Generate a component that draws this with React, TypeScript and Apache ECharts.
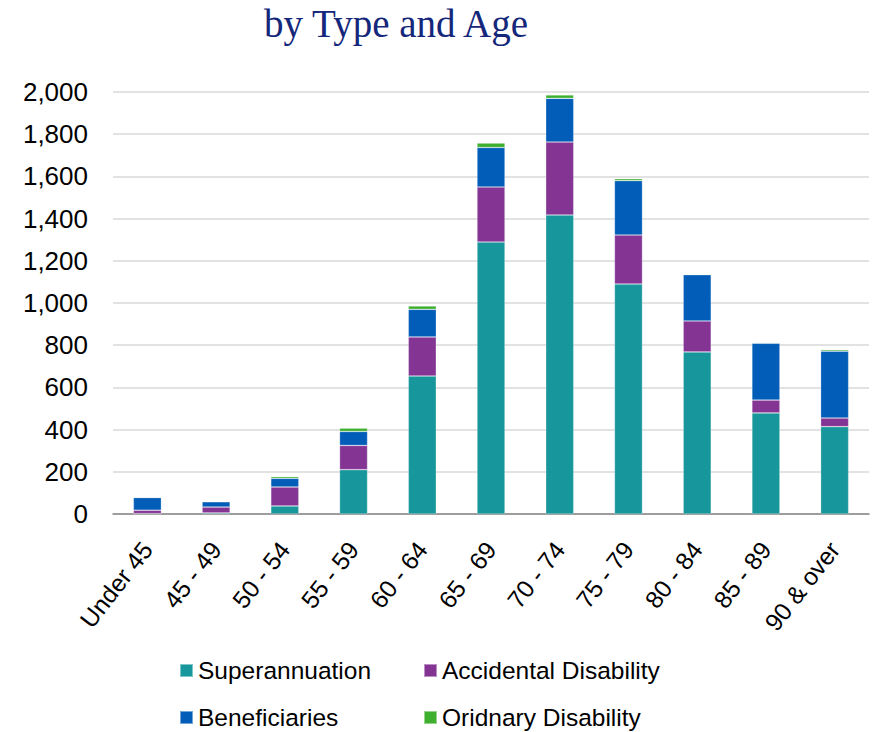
import React, { useEffect, useRef } from "react";
import * as echarts from "echarts";

const categories = ["Under 45", "45 - 49", "50 - 54", "55 - 59", "60 - 64", "65 - 69", "70 - 74", "75 - 79", "80 - 84", "85 - 89", "90 & over"];
const superannuation = [2, 5, 38, 210, 654, 1289, 1417, 1090, 768, 479, 414];
const accidentalDisability = [16, 28, 90, 115, 185, 261, 346, 232, 147, 61, 41];
const beneficiaries = [60, 25, 41, 66, 131, 187, 207, 258, 219, 269, 317];
const ordinaryDisability = [1, 2, 8, 16, 16, 21, 16, 9, 3, 3, 7];
const seriesNames = ["Superannuation", "Accidental Disability", "Beneficiaries", "Oridnary Disability"];
const colors = ["#17979B", "#843594", "#015DB7", "#3FAF30"];
const titleText = "by Type and Age";

export default function App() {
  const ref = useRef<HTMLDivElement>(null);
  useEffect(() => {
    if (!ref.current) return;
    const chart = echarts.init(ref.current, null, { renderer: "svg" });
    const values = [superannuation, accidentalDisability, beneficiaries, ordinaryDisability];
    const legendPos = [
      { left: 179, top: 658 },
      { left: 423, top: 658 },
      { left: 179, top: 705 },
      { left: 423, top: 705 },
    ];
    chart.setOption({
      animation: false,
      backgroundColor: "#ffffff",
      title: {
        text: titleText,
        left: 264,
        top: 4,
        padding: 0,
        textStyle: {
          fontFamily: "Liberation Serif",
          fontSize: 39,
          fontWeight: "normal",
          color: "#14277A",
        },
      },
      legend: seriesNames.map((n, i) => ({
        data: [n],
        left: legendPos[i].left,
        top: legendPos[i].top,
        padding: 0,
        itemWidth: 13,
        itemHeight: 13,
        itemGap: 0,
        icon: "rect",
        selectedMode: false,
        textStyle: {
          fontFamily: "Liberation Sans",
          fontSize: 24.5,
          color: "#000000",
          lineHeight: 24,
        },
      })),
      grid: { left: 113, right: 4, top: 92, bottom: 218, containLabel: false },
      xAxis: {
        type: "category",
        data: categories,
        axisLine: { lineStyle: { color: "#868686", width: 1.5 } },
        axisTick: { show: false },
        axisLabel: {
          rotate: 52,
          margin: 31,
          interval: 0,
          fontFamily: "Liberation Sans",
          fontSize: 24.5,
          color: "#000000",
        },
      },
      yAxis: {
        type: "value",
        min: 0,
        max: 2000,
        interval: 200,
        axisLine: { show: false },
        axisTick: { show: false },
        splitLine: { lineStyle: { color: "#D9D9D9", width: 1.5 } },
        axisLabel: {
          margin: 25,
          fontFamily: "Liberation Sans",
          fontSize: 26,
          color: "#000000",
          formatter: (v: number) => v.toLocaleString("en-US"),
        },
      },
      series: seriesNames.map((n, i) => ({
        name: n,
        type: "bar",
        stack: "total",
        barWidth: 28,
        data: values[i],
        itemStyle: { color: colors[i], borderColor: "rgba(255,255,255,0.45)", borderWidth: 0.6 },
      })),
    });
    return () => chart.dispose();
  }, []);
  return <div ref={ref} style={{ position: "fixed", left: 0, top: 0, width: 873, height: 732 }} />;
}
